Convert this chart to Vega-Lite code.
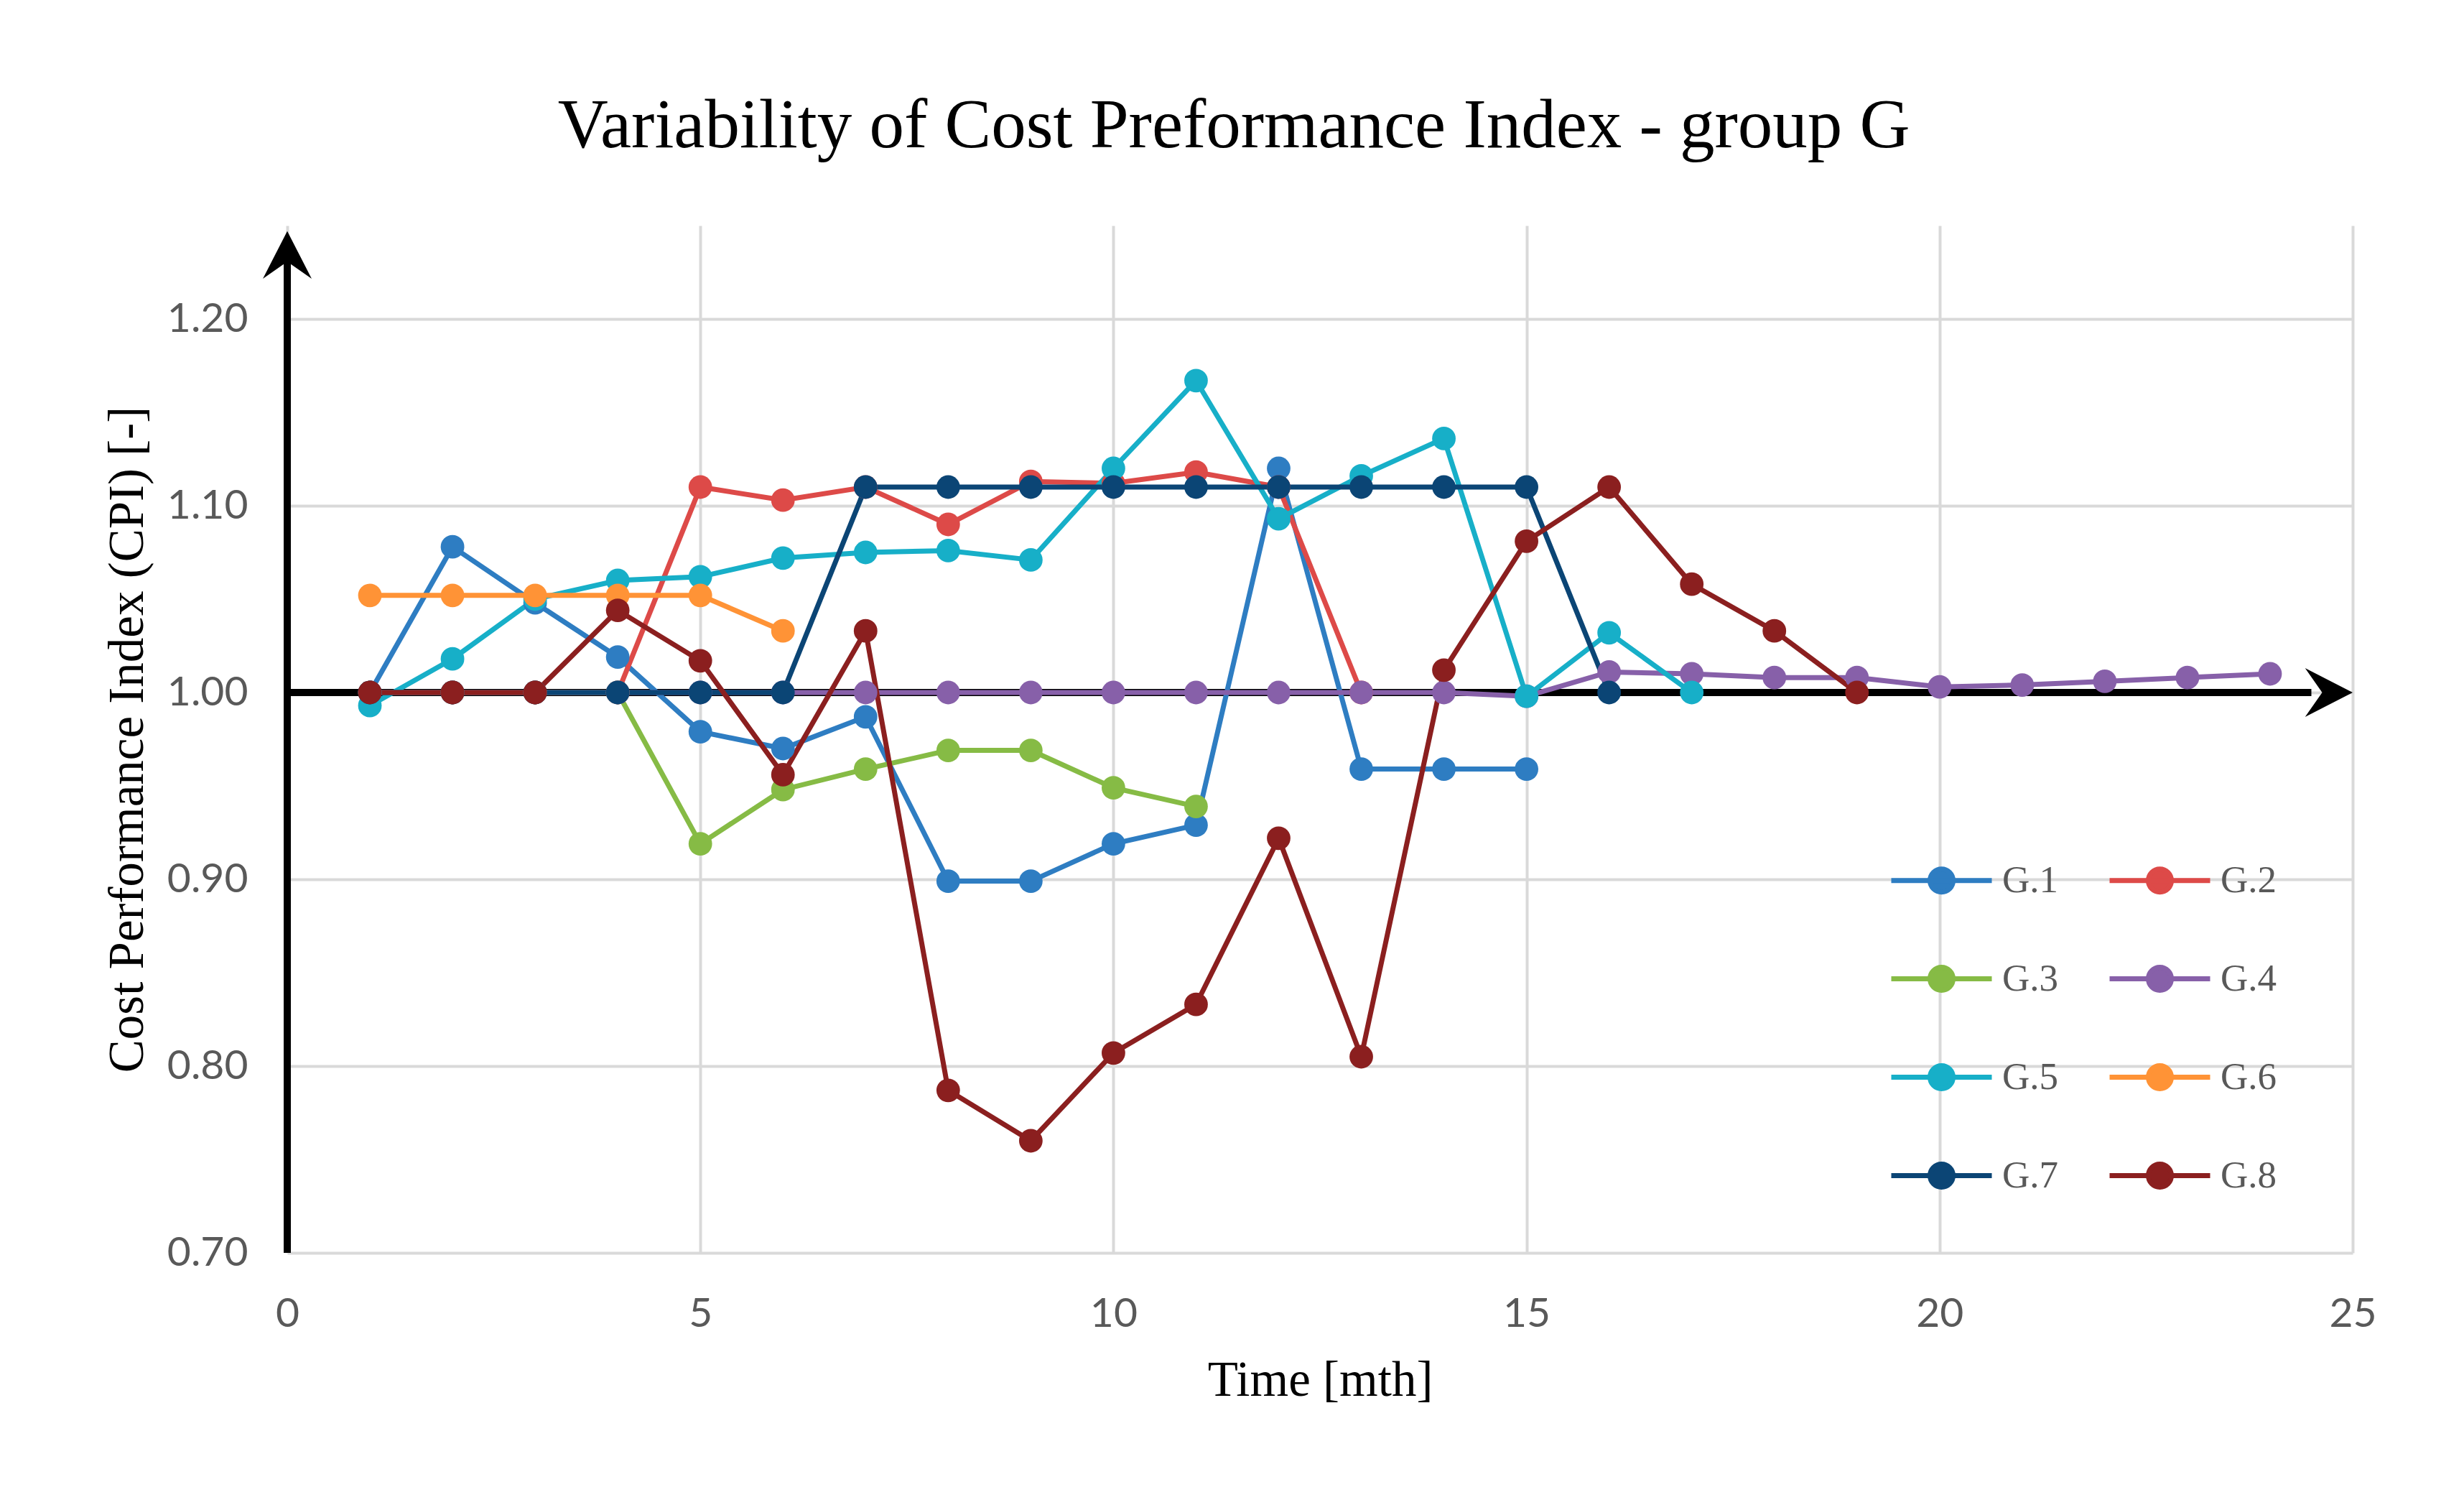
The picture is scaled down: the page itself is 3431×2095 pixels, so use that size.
{
  "$schema": "https://vega.github.io/schema/vega-lite/v6.json",
  "width": 2876,
  "height": 1430,
  "autosize": {"type": "none"},
  "padding": {"left": 400, "top": 314, "right": 155, "bottom": 351},
  "background": "white",
  "title": {
    "text": "Variability of Cost Preformance Index - group G",
    "font": "Liberation Serif",
    "fontSize": 97,
    "fontWeight": "normal",
    "color": "black",
    "anchor": "middle",
    "frame": "bounds",
    "baseline": "alphabetic",
    "offset": 12,
    "dx": -8
  },
  "config": {
    "view": {"stroke": null},
    "axis": {
      "domain": false,
      "ticks": false,
      "tickSize": 0,
      "grid": true,
      "gridColor": "#d9d9d9",
      "gridWidth": 4,
      "labelFont": "Lato",
      "labelFontSize": 57,
      "labelColor": "#595959",
      "titleFont": "Liberation Serif",
      "titleFontSize": 69,
      "titleFontWeight": "normal",
      "titleColor": "black"
    }
  },
  "layer": [
    {
      "data": {"values": [{}]},
      "mark": {"type": "rule", "color": "black", "strokeWidth": 10},
      "encoding": {
        "x": {"datum": 0, "type": "quantitative", "scale": {"domain": [0, 25], "nice": false, "zero": false}},
        "y": {"datum": 0.7, "type": "quantitative", "scale": {"domain": [0.7, 1.25], "nice": false, "zero": false}},
        "y2": {"datum": 1.235}
      }
    },
    {
      "data": {"values": [{}]},
      "mark": {"type": "rule", "color": "black", "strokeWidth": 10},
      "encoding": {
        "x": {"datum": 0, "type": "quantitative", "scale": {"domain": [0, 25], "nice": false, "zero": false}},
        "x2": {"datum": 24.5},
        "y": {"datum": 1.0, "type": "quantitative", "scale": {"domain": [0.7, 1.25], "nice": false, "zero": false}}
      }
    },
    {
      "data": {"values": [{}]},
      "mark": {"type": "point", "filled": true, "color": "black", "opacity": 1, "size": 4624, "shape": "M0,0L-1,1.95L0,1.25L1,1.95Z"},
      "encoding": {
        "x": {"datum": 0, "type": "quantitative", "scale": {"domain": [0, 25], "nice": false, "zero": false}},
        "y": {"datum": 1.247, "type": "quantitative", "scale": {"domain": [0.7, 1.25], "nice": false, "zero": false}}
      }
    },
    {
      "data": {"values": [{}]},
      "mark": {"type": "point", "filled": true, "color": "black", "opacity": 1, "size": 4624, "shape": "M0,0L-1.95,-1L-1.25,0L-1.95,1Z"},
      "encoding": {
        "x": {"datum": 25, "type": "quantitative", "scale": {"domain": [0, 25], "nice": false, "zero": false}},
        "y": {"datum": 1.0, "type": "quantitative", "scale": {"domain": [0.7, 1.25], "nice": false, "zero": false}}
      }
    },
    {
      "data": {
        "values": [
          {"series": "G.1", "month": 1, "cpi": 1.000},
          {"series": "G.1", "month": 2, "cpi": 1.078},
          {"series": "G.1", "month": 3, "cpi": 1.048},
          {"series": "G.1", "month": 4, "cpi": 1.019},
          {"series": "G.1", "month": 5, "cpi": 0.979},
          {"series": "G.1", "month": 6, "cpi": 0.970},
          {"series": "G.1", "month": 7, "cpi": 0.987},
          {"series": "G.1", "month": 8, "cpi": 0.899},
          {"series": "G.1", "month": 9, "cpi": 0.899},
          {"series": "G.1", "month": 10, "cpi": 0.919},
          {"series": "G.1", "month": 11, "cpi": 0.929},
          {"series": "G.1", "month": 12, "cpi": 1.120},
          {"series": "G.1", "month": 13, "cpi": 0.959},
          {"series": "G.1", "month": 14, "cpi": 0.959},
          {"series": "G.1", "month": 15, "cpi": 0.959},
          {"series": "G.2", "month": 1, "cpi": 1.000},
          {"series": "G.2", "month": 2, "cpi": 1.000},
          {"series": "G.2", "month": 3, "cpi": 1.000},
          {"series": "G.2", "month": 4, "cpi": 1.000},
          {"series": "G.2", "month": 5, "cpi": 1.110},
          {"series": "G.2", "month": 6, "cpi": 1.103},
          {"series": "G.2", "month": 7, "cpi": 1.110},
          {"series": "G.2", "month": 8, "cpi": 1.090},
          {"series": "G.2", "month": 9, "cpi": 1.113},
          {"series": "G.2", "month": 10, "cpi": 1.112},
          {"series": "G.2", "month": 11, "cpi": 1.118},
          {"series": "G.2", "month": 12, "cpi": 1.110},
          {"series": "G.2", "month": 13, "cpi": 1.000},
          {"series": "G.3", "month": 1, "cpi": 1.000},
          {"series": "G.3", "month": 2, "cpi": 1.000},
          {"series": "G.3", "month": 3, "cpi": 1.000},
          {"series": "G.3", "month": 4, "cpi": 1.000},
          {"series": "G.3", "month": 5, "cpi": 0.919},
          {"series": "G.3", "month": 6, "cpi": 0.948},
          {"series": "G.3", "month": 7, "cpi": 0.959},
          {"series": "G.3", "month": 8, "cpi": 0.969},
          {"series": "G.3", "month": 9, "cpi": 0.969},
          {"series": "G.3", "month": 10, "cpi": 0.949},
          {"series": "G.3", "month": 11, "cpi": 0.939},
          {"series": "G.4", "month": 1, "cpi": 1.000},
          {"series": "G.4", "month": 2, "cpi": 1.000},
          {"series": "G.4", "month": 3, "cpi": 1.000},
          {"series": "G.4", "month": 4, "cpi": 1.000},
          {"series": "G.4", "month": 5, "cpi": 1.000},
          {"series": "G.4", "month": 6, "cpi": 1.000},
          {"series": "G.4", "month": 7, "cpi": 1.000},
          {"series": "G.4", "month": 8, "cpi": 1.000},
          {"series": "G.4", "month": 9, "cpi": 1.000},
          {"series": "G.4", "month": 10, "cpi": 1.000},
          {"series": "G.4", "month": 11, "cpi": 1.000},
          {"series": "G.4", "month": 12, "cpi": 1.000},
          {"series": "G.4", "month": 13, "cpi": 1.000},
          {"series": "G.4", "month": 14, "cpi": 1.000},
          {"series": "G.4", "month": 15, "cpi": 0.998},
          {"series": "G.4", "month": 16, "cpi": 1.011},
          {"series": "G.4", "month": 17, "cpi": 1.010},
          {"series": "G.4", "month": 18, "cpi": 1.008},
          {"series": "G.4", "month": 19, "cpi": 1.008},
          {"series": "G.4", "month": 20, "cpi": 1.003},
          {"series": "G.4", "month": 21, "cpi": 1.004},
          {"series": "G.4", "month": 22, "cpi": 1.006},
          {"series": "G.4", "month": 23, "cpi": 1.008},
          {"series": "G.4", "month": 24, "cpi": 1.010},
          {"series": "G.5", "month": 1, "cpi": 0.993},
          {"series": "G.5", "month": 2, "cpi": 1.018},
          {"series": "G.5", "month": 3, "cpi": 1.050},
          {"series": "G.5", "month": 4, "cpi": 1.060},
          {"series": "G.5", "month": 5, "cpi": 1.062},
          {"series": "G.5", "month": 6, "cpi": 1.072},
          {"series": "G.5", "month": 7, "cpi": 1.075},
          {"series": "G.5", "month": 8, "cpi": 1.076},
          {"series": "G.5", "month": 9, "cpi": 1.071},
          {"series": "G.5", "month": 10, "cpi": 1.120},
          {"series": "G.5", "month": 11, "cpi": 1.167},
          {"series": "G.5", "month": 12, "cpi": 1.093},
          {"series": "G.5", "month": 13, "cpi": 1.116},
          {"series": "G.5", "month": 14, "cpi": 1.136},
          {"series": "G.5", "month": 15, "cpi": 0.998},
          {"series": "G.5", "month": 16, "cpi": 1.032},
          {"series": "G.5", "month": 17, "cpi": 1.000},
          {"series": "G.6", "month": 1, "cpi": 1.052},
          {"series": "G.6", "month": 2, "cpi": 1.052},
          {"series": "G.6", "month": 3, "cpi": 1.052},
          {"series": "G.6", "month": 4, "cpi": 1.052},
          {"series": "G.6", "month": 5, "cpi": 1.052},
          {"series": "G.6", "month": 6, "cpi": 1.033},
          {"series": "G.7", "month": 1, "cpi": 1.000},
          {"series": "G.7", "month": 2, "cpi": 1.000},
          {"series": "G.7", "month": 3, "cpi": 1.000},
          {"series": "G.7", "month": 4, "cpi": 1.000},
          {"series": "G.7", "month": 5, "cpi": 1.000},
          {"series": "G.7", "month": 6, "cpi": 1.000},
          {"series": "G.7", "month": 7, "cpi": 1.110},
          {"series": "G.7", "month": 8, "cpi": 1.110},
          {"series": "G.7", "month": 9, "cpi": 1.110},
          {"series": "G.7", "month": 10, "cpi": 1.110},
          {"series": "G.7", "month": 11, "cpi": 1.110},
          {"series": "G.7", "month": 12, "cpi": 1.110},
          {"series": "G.7", "month": 13, "cpi": 1.110},
          {"series": "G.7", "month": 14, "cpi": 1.110},
          {"series": "G.7", "month": 15, "cpi": 1.110},
          {"series": "G.7", "month": 16, "cpi": 1.000},
          {"series": "G.8", "month": 1, "cpi": 1.000},
          {"series": "G.8", "month": 2, "cpi": 1.000},
          {"series": "G.8", "month": 3, "cpi": 1.000},
          {"series": "G.8", "month": 4, "cpi": 1.044},
          {"series": "G.8", "month": 5, "cpi": 1.017},
          {"series": "G.8", "month": 6, "cpi": 0.956},
          {"series": "G.8", "month": 7, "cpi": 1.033},
          {"series": "G.8", "month": 8, "cpi": 0.787},
          {"series": "G.8", "month": 9, "cpi": 0.760},
          {"series": "G.8", "month": 10, "cpi": 0.807},
          {"series": "G.8", "month": 11, "cpi": 0.833},
          {"series": "G.8", "month": 12, "cpi": 0.922},
          {"series": "G.8", "month": 13, "cpi": 0.805},
          {"series": "G.8", "month": 14, "cpi": 1.012},
          {"series": "G.8", "month": 15, "cpi": 1.081},
          {"series": "G.8", "month": 16, "cpi": 1.110},
          {"series": "G.8", "month": 17, "cpi": 1.058},
          {"series": "G.8", "month": 18, "cpi": 1.033},
          {"series": "G.8", "month": 19, "cpi": 1.000}
        ]
      },
      "encoding": {
        "x": {
          "field": "month",
          "type": "quantitative",
          "scale": {"domain": [0, 25], "nice": false, "zero": false},
          "axis": {
            "title": "Time [mth]",
            "values": [0, 5, 10, 15, 20, 25],
            "format": "d",
            "grid": true,
            "labelPadding": 57,
            "titlePadding": 30,
            "labelFlush": false,
            "labelOverlap": false
          }
        },
        "y": {
          "field": "cpi",
          "type": "quantitative",
          "scale": {"domain": [0.7, 1.25], "nice": false, "zero": false},
          "axis": {
            "title": "Cost Performance Index (CPI) [-]",
            "values": [0.7, 0.8, 0.9, 1.0, 1.1, 1.2],
            "format": ".2f",
            "grid": true,
            "labelPadding": 55,
            "titlePadding": 20,
            "labelOverlap": false
          }
        },
        "color": {
          "field": "series",
          "type": "nominal",
          "scale": {
            "domain": ["G.1", "G.2", "G.3", "G.4", "G.5", "G.6", "G.7", "G.8"],
            "range": ["#2E7DC2", "#DD4A48", "#86BB45", "#8760A9", "#17AFC8", "#FF9336", "#0B4575", "#8B1F1F"]
          },
          "legend": {
            "title": null,
            "orient": "none",
            "direction": "horizontal",
            "legendX": 2277,
            "legendY": 885,
            "columns": 2,
            "padding": 0,
            "symbolType": "M-4.375,0L4.375,0M1,0A1,1,0,1,1,-1,0A1,1,0,1,1,1,0",
            "symbolSize": 1024,
            "symbolStrokeWidth": 7,
            "labelFont": "Liberation Serif",
            "labelFontSize": 53,
            "labelColor": "#595959",
            "labelOffset": 58,
            "rowPadding": 76,
            "columnPadding": 56,
            "encode": {
              "symbols": {
                "update": {
                  "fill": {"scale": "color", "field": "value"},
                  "stroke": {"scale": "color", "field": "value"},
                  "opacity": {"value": 1},
                  "fillOpacity": {"value": 1},
                  "strokeWidth": {"value": 7}
                }
              }
            }
          }
        }
      },
      "layer": [
        {"mark": {"type": "line", "strokeWidth": 7}},
        {"mark": {"type": "point", "filled": true, "opacity": 1, "size": 1075}}
      ]
    }
  ]
}
